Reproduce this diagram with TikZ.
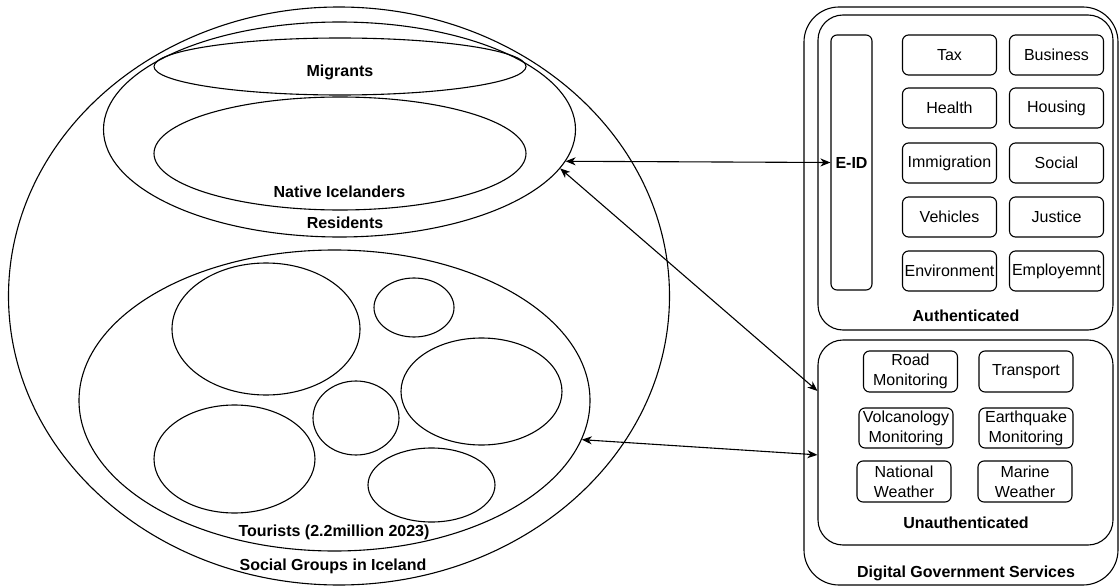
\documentclass[tikz,border=0pt]{standalone}
\usepackage{fontspec}
\setmainfont{Liberation Sans}
\usetikzlibrary{shapes.geometric,arrows.meta,calc}

\begin{document}
\begin{tikzpicture}[x=1pt,y=-1pt,line width=1.1pt,
  >={Stealth[length=10pt,width=8pt,inset=3pt]},
  group/.style={ellipse,draw,inner sep=0pt},
  caption/.style={font=\fontsize{16}{20}\selectfont\bfseries,inner sep=0pt},
  panel/.style={rectangle,draw,rounded corners=25pt,inner sep=0pt},
  service/.style={rectangle,draw,rounded corners=6pt,minimum width=94pt,minimum height=40pt,
    align=center,inner sep=0pt,font=\fontsize{16}{20}\selectfont}]
\useasboundingbox (0,0) rectangle (1120,586);
% social groups
\node[group,minimum width=661pt,minimum height=578pt] (social) at (339,296) {};
\node[group,minimum width=472pt,minimum height=215pt] (res) at (339.5,129.5) {};
\node[group,minimum width=372pt,minimum height=57pt] (mig) at (340,66.5) {};
\node[group,minimum width=372pt,minimum height=113pt] (native) at (340,153.5) {};
\node[group,minimum width=511pt,minimum height=301pt] (tour) at (334.5,400.5) {};
%\draw[help lines] (0,0) grid (1120,586);
\node[group,minimum width=188pt,minimum height=132pt] (tA) at (266,329) {};
\node[group,minimum width=80pt,minimum height=59pt] (tB) at (414,307.5) {};
\node[group,minimum width=161pt,minimum height=107pt] (tC) at (481.5,391.5) {};
\node[group,minimum width=86pt,minimum height=74pt] (tD) at (356,418) {};
\node[group,minimum width=161pt,minimum height=108pt] (tE) at (234.5,459) {};
\node[group,minimum width=127pt,minimum height=74pt] (tF) at (431.5,485) {};
\path
(340,72) node[caption] (migL) {Migrants}
(339.5,192) node[caption] (nativeL) {Native Icelanders}
(345,223) node[caption] (resL) {Residents}
(334,532) node[caption] (tourL) {Tourists (2.2million 2023)}
(333,566) node[caption] (socialL) {Social Groups in Iceland}
;
% digital services
\node[panel,rounded corners=35pt,minimum width=314pt,minimum height=578pt] (dgs) at (961,296) {};
\node[panel,minimum width=295pt,minimum height=315pt] (auth) at (965.5,172.5) {};
\node[panel,minimum width=295pt,minimum height=205pt] (unauth) at (965.5,442.5) {};
\node[service,minimum width=41pt,minimum height=255pt,font=\fontsize{16}{20}\selectfont\bfseries] (eid) at (851.5,162.5) {E-ID};
\path
(949.5,55) node[service] (tax) {Tax}
(1056.5,55) node[service] (business) {Business}
(949.5,108) node[service] (health) {Health}
(1056.5,108) node[service] (housing) {Housing}
(949.5,163) node[service] (immig) {Immigration}
(1056.5,163) node[service] (social2) {Social}
(949.5,217) node[service] (vehicles) {Vehicles}
(1056.5,217) node[service] (justice) {Justice}
(949.5,271) node[service] (env) {Environment}
(1056.5,271) node[service] (employ) {Employemnt}
;
\path
(910.5,371.5) node[service,minimum height=41pt] (road) {Road\\Monitoring}
(1026,371.5) node[service,minimum height=41pt] (transport) {Transport}
(906,428) node[service] (volcano) {Volcanology\\Monitoring}
(1026,428) node[service] (quake) {Earthquake\\Monitoring}
(904,481.5) node[service,minimum height=41pt] (natW) {National\\Weather}
(1025,481.5) node[service,minimum height=41pt] (marW) {Marine\\Weather}
;
\path
(966,316) node[caption] (authL) {Authenticated}
(966,523) node[caption] (unauthL) {Unauthenticated}
(966,573) node[caption] (dgsL) {Digital Government Services}
;
% links
\draw[<->] (res.-8) -- (eid.west);
\draw[<->] (res.-10.5) -- ($(unauth.north west)!0.25!(unauth.south west)$);
\draw[<->] (tour.-9.3) -- ($(unauth.north west)!0.56!(unauth.south west)$);
\end{tikzpicture}
\end{document}
